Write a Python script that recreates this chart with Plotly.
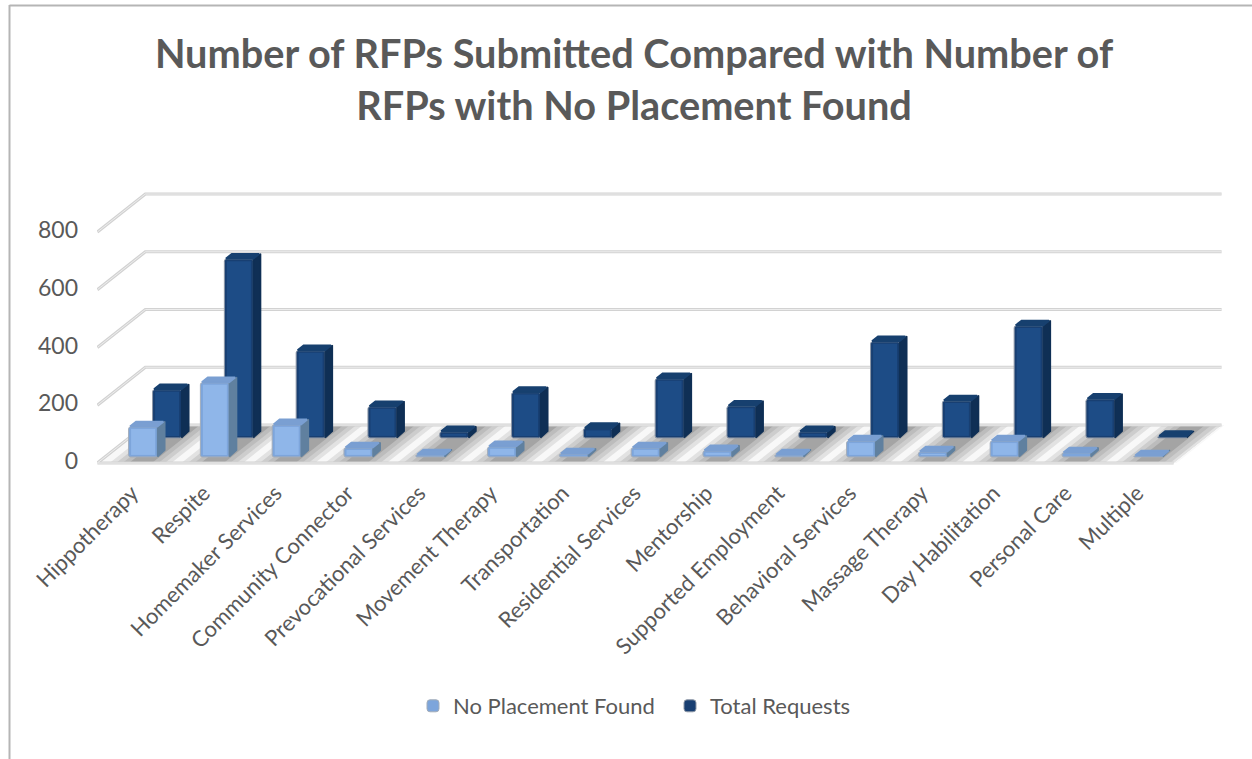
import plotly.graph_objects as go

categories = ["Hippotherapy", "Respite", "Homemaker Services", "Community Connector",
              "Prevocational Services", "Movement Therapy", "Transportation",
              "Residential Services", "Mentorship", "Supported Employment",
              "Behavioral Services", "Massage Therapy", "Day Habilitation",
              "Personal Care", "Multiple"]
no_placement = [104, 257, 111, 31, 7, 35, 10, 31, 21, 7, 55, 17, 55, 14, 3]
total_requests = [167, 619, 302, 108, 21, 157, 33, 205, 110, 21, 333, 128, 388, 134, 5]
y_ticks = [0, 200, 400, 600, 800]

# oblique projection constants (data units of the shared axes)
PX_PER_CAT, PX_PER_VAL = 71.8, 0.28875
Y0_PX = 461
DX, DV, FLOOR = 0.668, 131.6, (Y0_PX - 463) / PX_PER_VAL
XL, XR = -0.53, 14.46
BW, BD = 0.404, 0.15
D_FRONT, D_BACK = 0.16, 0.66
W, H = 1252, 759
ML, MR, MT, MB = 97, 28, 170, 284
x_start = XL - 0.005
x_end = x_start + (W - ML - MR) / PX_PER_CAT
y_start = (Y0_PX - (H - MB)) / PX_PER_VAL
y_end = (Y0_PX - MT) / PX_PER_VAL
FONT = "Lato"


def P(x, d, v):
    return x + d * DX, FLOOR + v + d * DV


def polys(list_of_pts):
    xs, ys = [], []
    for pts in list_of_pts:
        for p in pts + pts[:1]:
            xs.append(p[0]); ys.append(p[1])
        xs.append(None); ys.append(None)
    return xs, ys


def poly_trace(pts, color, axes, line=None, lw=0):
    xs, ys = polys(pts)
    return go.Scatter(x=xs, y=ys, mode="lines", fill="toself", fillcolor=color,
                      line=dict(color=line or color, width=lw), hoverinfo="skip",
                      showlegend=False, xaxis=axes[0], yaxis=axes[1])


def bar_set(values, d0, name, rim, face, top, side, edge, axes):
    n = len(values)
    x = [i + d0 * DX for i in range(n)]
    b0 = FLOOR + d0 * DV
    bar = go.Bar(x=x, y=values, base=[b0] * n, width=BW, name=name,
                 marker=dict(color=face, line=dict(color=edge, width=1), cornerradius=2),
                 xaxis=axes[0], yaxis=axes[1], hoverinfo="skip")
    # inner panel gives the face its slightly brighter centre
    inner = go.Bar(x=x, y=[max(v - 14, 0) for v in values], base=[b0 + 7] * n, width=BW - 0.07,
                   marker=dict(color=rim, line=dict(width=0)), showlegend=False,
                   xaxis=axes[0], yaxis=axes[1], hoverinfo="skip")
    tops, sides = [], []
    for i, v in enumerate(values):
        l, r = i - BW / 2, i + BW / 2
        tops.append([P(l + .012, d0 + .012, v), P(r - .012, d0 + .012, v),
                     P(r - .012, d0 + BD - .012, v), P(l + .012, d0 + BD - .012, v)])
        sides.append([P(r, d0, 1), P(r, d0 + BD, 4), P(r, d0 + BD, max(v - 1, 4)), P(r, d0, max(v - 1, 1))])
    return [bar, inner, poly_trace(sides, side, axes, side, 1.5), poly_trace(tops, top, axes, top, 2)]


traces = []
# front series first so the legend order matches
traces += bar_set(no_placement, D_FRONT, "No Placement Found", "#8FB6E9", "#7DA5DB", "#7A9FD2", "#60809F",
                  "#a3adba", ("x3", "y3"))
traces += bar_set(total_requests, D_BACK, "Total Requests", "#1D4C86", "#183F72", "#17406F", "#0F2F55",
                  "#8d97a6", ("x2", "y2"))

# floor: soft diagonal stripes, one per category
traces.append(poly_trace([[P(XL, 0, 0), P(XR, 0, 0), P(XR, 1, 0), P(XL, 1, 0)]], "#a4a4a4", ("x", "y")))
for half, shade in ((0.34, "#bcbcbc"), (0.25, "#cdcdcd"), (0.16, "#e2e2e2"), (0.07, "#f8f8f8")):
    cells = []
    for i in range(-1, len(categories)):
        c = i + 0.57
        a, b = max(c - half, XL), min(c + half, XR)
        cells.append([P(a, 0, 0), P(b, 0, 0), P(b, 1, 0), P(a, 1, 0)])
    traces.append(poly_trace(cells, shade, ("x", "y")))

# gridlines on back and side wall, and the floor's front edge
gx, gy = [], []
for v in y_ticks:
    for p in (P(XL, 0, v), P(XL, 1, v), P(XR, 1, v)):
        gx.append(p[0]); gy.append(p[1])
    gx.append(None); gy.append(None)
for p in (P(XL, 0, 0), P(XR, 0, 0)):
    gx.append(p[0]); gy.append(p[1])
for color, width in (("#d2d2d2", 3.2), ("#ededed", 1)):
    traces.append(go.Scatter(x=gx, y=gy, mode="lines", line=dict(color=color, width=width),
                             hoverinfo="skip", showlegend=False, xaxis="x", yaxis="y"))

fig = go.Figure(traces)
hidden = dict(visible=False, range=[x_start, x_end], fixedrange=True)
hiddeny = dict(visible=False, range=[y_start, y_end], fixedrange=True)
plot_w, plot_h = W - ML - MR, H - MT - MB


def fx(px):
    return (px - ML) / plot_w


def fy(py):
    return (H - MB - py) / plot_h


fig.update_layout(
    width=W, height=H, autosize=False,
    margin=dict(l=ML, r=MR, t=MT, b=MB, autoexpand=False),
    paper_bgcolor="white", plot_bgcolor="rgba(0,0,0,0)",
    font=dict(family=FONT, color="#595959", size=22),
    barmode="overlay",
    title=dict(text="<b>Number of RFPs Submitted Compared with Number of<br>RFPs with No Placement Found</b>",
               x=634 / W, xanchor="center", y=1 - 68 / H, yanchor="top",
               font=dict(family=FONT, size=39.7, color="#595959")),
    xaxis=dict(range=[x_start, x_end], tickmode="array",
               tickvals=[i + D_FRONT * DX - 0.155 for i in range(len(categories))],
               ticktext=categories, tickangle=-45, showgrid=False, zeroline=False,
               showline=False, ticks="", fixedrange=True, tickfont=dict(size=22)),
    yaxis=dict(range=[y_start, y_end], tickmode="array", tickvals=y_ticks,
               showgrid=False, zeroline=False, showline=False, ticks="", fixedrange=True,
               ticklabelstandoff=18, tickfont=dict(size=23)),
    xaxis2=dict(overlaying="x", **hidden), yaxis2=dict(overlaying="y", **hiddeny),
    xaxis3=dict(overlaying="x", **hidden), yaxis3=dict(overlaying="y", **hiddeny),
    legend=dict(orientation="h", x=fx(413), xanchor="left", y=fy(727), yanchor="bottom",
                font=dict(size=22), bgcolor="rgba(0,0,0,0)", entrywidth=212,
                entrywidthmode="pixels"),
    showlegend=True,
    shapes=[
        dict(type="line", xref="paper", yref="paper", layer="below",
             x0=fx(9.5), x1=fx(9.5), y0=fy(5), y1=fy(H),
             line=dict(color="#b5b5b5", width=2)),
        dict(type="line", xref="paper", yref="paper", layer="below",
             x0=fx(9.5), x1=fx(W), y0=fy(5.5), y1=fy(5.5),
             line=dict(color="#b5b5b5", width=2)),
    ],
)
fig.write_html("out.html", config={"displayModeBar": False},
               post_script="document.body.style.margin='0';")
